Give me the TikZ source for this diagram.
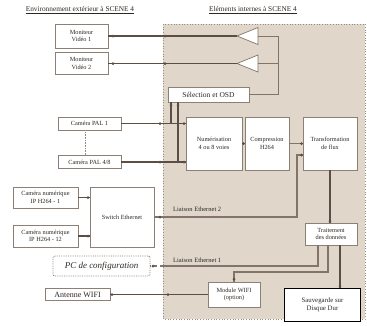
\documentclass[tikz,border=0pt]{standalone}
\usepackage{fontspec}
\setmainfont{Liberation Serif}
\definecolor{regionfill}{RGB}{224,215,202}
\definecolor{regionline}{RGB}{150,140,130}
\definecolor{boxline}{RGB}{140,128,118}
\definecolor{wirec}{RGB}{92,78,68}
\definecolor{thinc}{RGB}{130,116,104}
\definecolor{txt}{RGB}{45,40,36}
\tikzset{
  box/.style={draw=boxline, fill=white, line width=0.8pt, inner sep=0pt, align=center, text=txt, font=\fontsize{6.3}{7.6}\selectfont},
  ttl/.style={inner sep=0pt, text=txt, font=\fontsize{7.3}{8}\selectfont},
  lbl/.style={inner sep=0pt, anchor=west, text=txt, font=\fontsize{6.5}{7.5}\selectfont},
  wire/.style={draw=wirec, line width=1.3pt},
  thinwire/.style={draw=thinc, line width=0.8pt},
  ampl/.style={draw=thinc, fill=white, line width=0.7pt},
}
\newcommand\dotat[1]{\fill[wirec] #1 circle (1.5pt);}
\begin{document}
\begin{tikzpicture}[x=1pt,y=-1pt]
\useasboundingbox (0,0) rectangle (367,325);
\fill[white] (0,0) rectangle (367,325);
\draw[regionline, fill=regionfill, dotted, line width=0.7pt] (163,24) rectangle (365,319);
\node[ttl] (t1) at (80,10) {\underline{Environnement extérieur à SCENE 4}};
\node[ttl] (t2) at (253,10) {\underline{Eléments internes à SCENE 4}};

% boxes
\node[box, minimum width=53pt, minimum height=24pt] (mon1) at (81.5,36) {Moniteur\\Vidéo 1};
\node[box, minimum width=53pt, minimum height=22pt] (mon2) at (81.5,63.5) {Moniteur\\Vidéo 2};
\node[box, minimum width=81pt, minimum height=15pt, font=\fontsize{7.5}{8}\selectfont] (sel) at (208.5,94.5) {Sélection et OSD};
\node[box, minimum width=63pt, minimum height=13pt] (pal1) at (89.5,123.5) {Caméra PAL 1};
\node[box, minimum width=63pt, minimum height=13pt] (pal48) at (89.5,162) {Caméra PAL 4/8};
\node[box, minimum width=56pt, minimum height=53pt] (num) at (214,143.5) {Numérisation\\4 ou 8 voies};
\node[box, minimum width=44pt, minimum height=53pt] (comp) at (267,143.5) {Compression\\H264};
\node[box, minimum width=54pt, minimum height=53pt] (trans) at (330,143.5) {Transformation\\de flux};
\node[box, minimum width=65pt, minimum height=21pt] (ip1) at (45.5,197.5) {Caméra numérique\\IP H264 - 1};
\node[box, minimum width=65pt, minimum height=22pt] (ip12) at (45.5,236) {Caméra numérique\\IP H264 - 12};
\node[box, minimum width=64pt, minimum height=60pt] (sw) at (122,217) {Switch Ethernet};
\node[box, minimum width=52pt, minimum height=22pt] (trait) at (331,234) {Traitement\\des données};
\node[box, densely dotted, line width=0.9pt, rounded corners=2pt, minimum width=97pt, minimum height=20pt, font=\fontsize{9}{10}\selectfont\itshape] (pc) at (101.5,266) {PC de configuration};
\node[box, minimum width=52pt, minimum height=25pt] (wifi) at (234,294.5) {Module WIFI\\(option)};
\node[box, minimum width=65pt, minimum height=12pt, font=\fontsize{8}{9}\selectfont] (ant) at (77.5,294.5) {Antenne WIFI};
\node[box, draw=black, line width=1.8pt, minimum width=76pt, minimum height=33pt, font=\fontsize{6.8}{8}\selectfont] (sauv) at (322.5,305) {Sauvegarde sur\\Disque Dur};

% amplifiers
\coordinate (amp1tip) at (237,36);
\coordinate (amp1out) at (258,36);
\coordinate (amp2tip) at (237,63.5);
\coordinate (amp2out) at (258,63.5);
\draw[ampl] (amp1tip) -- (258,27.5) -- (258,44.5) -- cycle;
\draw[ampl] (amp2tip) -- (258,55) -- (258,72) -- cycle;
\coordinate (bend1) at (278,36);
\coordinate (bend2) at (278,63.5);

% selection to amplifiers
\draw[thinwire] (amp1out) -- (bend1) |- (sel.east);
\draw[thinwire] (amp2out) -- (bend2);

% amplifiers to monitors
\draw[wire] (amp1tip) -- (mon1.east);
\draw[wire] (amp2tip) -- (mon2.east);
\dotat{(113,36)} \dotat{(165,36)}
\dotat{(113,63.5)} \dotat{(165,63.5)}

% cameras PAL
\draw[regionline, densely dotted, line width=0.6pt] ([xshift=-4.5pt]pal1.south) -- ([xshift=-4.5pt]pal48.north);
\draw[wire] (pal1.east) -- (pal1.east -| num.west);
\draw[wire] (pal48.east) -- (pal48.east -| num.west);
\coordinate (j1) at (171,123.5);
\coordinate (j2) at (178,162);
\draw[wire] (j1) -- (j1 |- sel.south);
\draw[wire] (j2) -- (j2 |- sel.south);
\dotat{(160,123.5)} \dotat{(184,123.5)}
\dotat{(160,162)} \dotat{(184,162)}
\dotat{(171,105)} \dotat{(178,105)}

% chain
\draw[wire] (num.east) -- (comp.west);
\dotat{(243.5,143.5)}
\draw[thinwire] (comp.east) -- (comp.east -| trans.west);
\dotat{(301.5,143.5)}

% IP cameras
\draw[wire] (ip1.east) -- (ip1.east -| sw.west);
\draw[wire] (ip12.east) -- (ip12.east -| sw.west);
\dotat{(88,197.5)} \dotat{(88,236)}

% Ethernet 2
\coordinate (e2) at (297,217);
\coordinate (t2in) at (303,155);
\draw[thinwire, line width=1.1pt] (sw.east) -- (e2) |- (t2in);
\dotat{(160,217)} \dotat{(301.5,155)}
\node[lbl] (le2) at (173,209) {Liaison Ethernet 2};

% transformation to traitement
\draw[wire] (trans.south) -- (trans.south |- trait.north);
\dotat{(330,221)}

% Ethernet 1
\coordinate (e1a) at (318,266);
\coordinate (e1b) at (163,266);
\draw[thinwire, line width=1.1pt] ([xshift=-13pt]trait.south) -- (e1a) -- (e1b);
\draw[thinwire, line width=1.1pt, dashed] (e1b) -- (pc.east);
\dotat{(153,266)}
\node[lbl] (le1) at (173,260) {Liaison Ethernet 1};

% traitement to wifi
\coordinate (w1) at (328,272);
\coordinate (w2) at (234,272);
\draw[thinwire, line width=1.1pt] ([xshift=-3pt]trait.south) -- (w1) -- (w2) -- (wifi.north);
\dotat{(234,279)}

% traitement to sauvegarde
\draw[wire, line width=1.6pt] ([xshift=9pt]trait.south) -- ([xshift=9pt]trait.south |- sauv.north);
\dotat{(340,286)}

% wifi to antenna
\draw[wire] (wifi.west) -- (ant.east);
\dotat{(112,294.5)} \dotat{(168,294.5)}
\end{tikzpicture}
\end{document}
